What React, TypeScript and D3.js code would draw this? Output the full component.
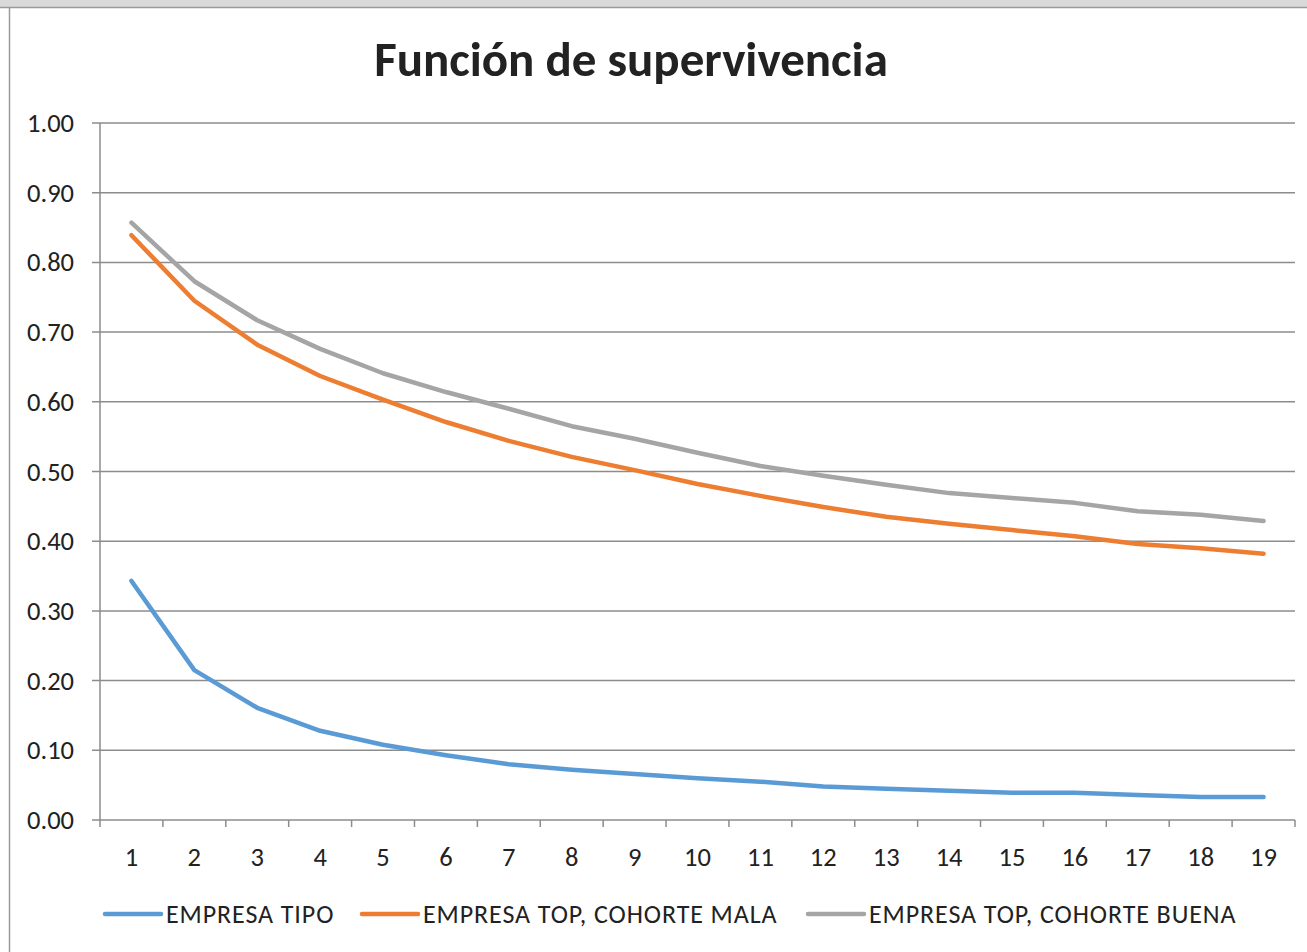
import React from "react";
import * as d3 from "d3";

const categories = ["1","2","3","4","5","6","7","8","9","10","11","12","13","14","15","16","17","18","19"];
const empresaTipo = [0.343,0.215,0.161,0.128,0.108,0.093,0.080,0.072,0.066,0.060,0.055,0.048,0.045,0.042,0.039,0.039,0.036,0.033,0.033];
const cohorteMala = [0.839,0.745,0.682,0.637,0.603,0.571,0.544,0.521,0.502,0.482,0.465,0.449,0.435,0.425,0.416,0.407,0.396,0.390,0.382];
const cohorteBuena = [0.857,0.773,0.717,0.676,0.641,0.614,0.590,0.565,0.547,0.527,0.508,0.494,0.481,0.469,0.462,0.455,0.443,0.438,0.429];
const yTicks = [0,0.1,0.2,0.3,0.4,0.5,0.6,0.7,0.8,0.9,1.0];
const seriesNames = ["EMPRESA TIPO","EMPRESA TOP, COHORTE MALA","EMPRESA TOP, COHORTE BUENA"];
const seriesColors = ["#5B9BD5","#ED7D31","#A5A5A5"];

const W = 1307, H = 952;
const left = 100, right = 1295, top = 123, bottom = 820;
const font = "Carlito, Calibri, 'Open Sans', sans-serif";

export default function App() {
  const x = d3.scaleBand().domain(categories).range([left, right]);
  const y = d3.scaleLinear().domain([0, 1]).range([bottom, top]);
  const line = d3.line<number>()
    .x((_, i) => (x(categories[i]) as number) + x.bandwidth() / 2)
    .y((d) => y(d));
  const all = [empresaTipo, cohorteMala, cohorteBuena];
  const legendX = [105, 362, 808];
  return (
    <svg width={W} height={H} style={{ position: "absolute", left: 0, top: 0, background: "#fff" }}>
      <rect x={0} y={0} width={W} height={7} fill="#d9d9d9" />
      <line x1={0} x2={W} y1={7.5} y2={7.5} stroke="#9a9a9a" strokeWidth={1.5} />
      <line x1={9.5} x2={9.5} y1={7} y2={H} stroke="#9a9a9a" strokeWidth={1.5} />
      <text x={631} y={76} textAnchor="middle" fontFamily={font} fontWeight="bold" fontSize={49} fill="#222">Función de supervivencia</text>
      {yTicks.map((t) => (
        <g key={t}>
          <line x1={92} x2={right} y1={y(t)} y2={y(t)} stroke="#8c8c8c" strokeWidth={1.5} />
          <text x={74} y={y(t) + 9} textAnchor="end" fontFamily={font} fontSize={26.5} fill="#222">{t.toFixed(2)}</text>
        </g>
      ))}
      <line x1={left} x2={left} y1={top} y2={bottom} stroke="#8c8c8c" strokeWidth={1.5} />
      {categories.concat(["end"]).map((c, i) => {
        const xx = left + i * x.step();
        return <line key={c} x1={xx} x2={xx} y1={bottom} y2={bottom + 7} stroke="#8c8c8c" strokeWidth={1.5} />;
      })}
      {categories.map((c) => (
        <text key={c} x={(x(c) as number) + x.bandwidth() / 2} y={866} textAnchor="middle" fontFamily={font} fontSize={26.5} fill="#222">{c}</text>
      ))}
      {all.map((s, i) => (
        <path key={i} d={line(s) || ""} fill="none" stroke={seriesColors[i]} strokeWidth={4.5} strokeLinecap="round" strokeLinejoin="round" />
      ))}
      {seriesNames.map((n, i) => (
        <g key={n}>
          <line x1={legendX[i]} x2={legendX[i] + 56} y1={914} y2={914} stroke={seriesColors[i]} strokeWidth={4.5} strokeLinecap="round" />
          <text x={legendX[i] + 61} y={923} fontFamily={font} fontSize={26} letterSpacing={0.9} fill="#222">{n}</text>
        </g>
      ))}
    </svg>
  );
}
